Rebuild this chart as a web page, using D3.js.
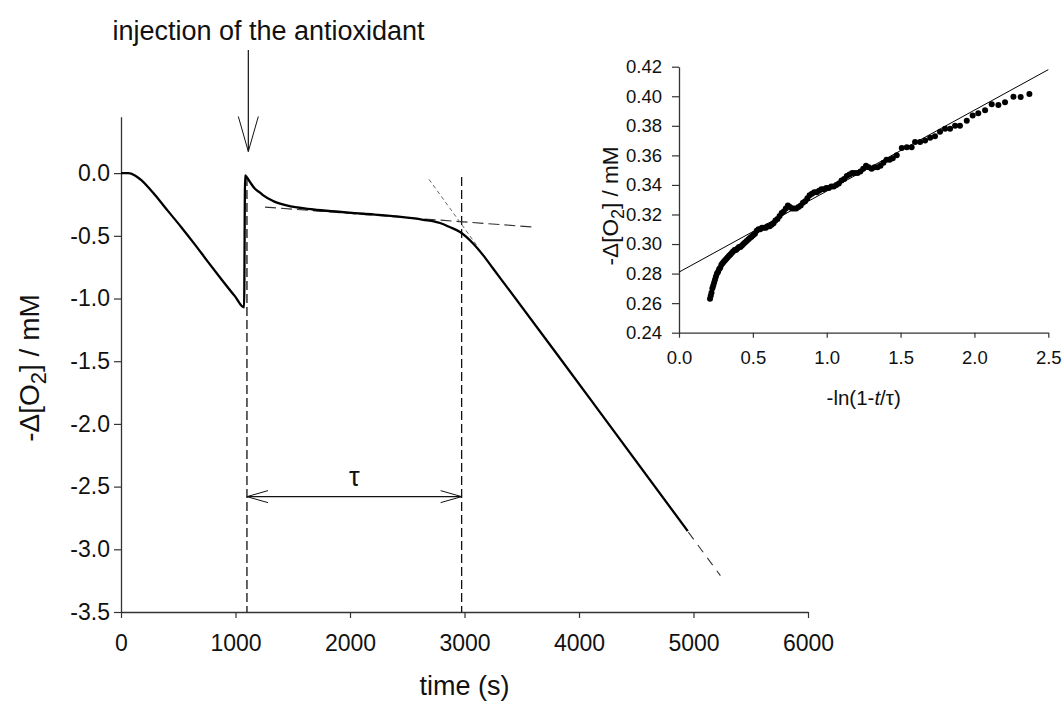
<!DOCTYPE html>
<html>
<head>
<meta charset="utf-8">
<script src="https://cdn.jsdelivr.net/npm/d3@7"></script>
<style>
  body { margin: 0; background: #fff; }
  svg { display: block; font-family: "Liberation Sans", Arial, sans-serif; }
</style>
</head>
<body>
<svg id="chart" width="1063" height="702"></svg>
<script>
// ---------- main chart data ----------
const timeS = [0, 64, 122, 180, 238, 297, 413, 530, 646, 763, 880, 996, 1075,
  1084, 1100, 1127, 1170, 1214, 1243, 1330, 1447, 1680, 1900, 2117, 2408, 2640, 2786, 2870, 2961, 3077, 3164, 3251,
  3368, 3805, 4242, 4950];
const dO2 = [0, 0, -0.018, -0.058, -0.112, -0.175, -0.305, -0.435, -0.570, -0.712, -0.850, -0.983, -1.070,
  -0.018, -0.035, -0.072, -0.125, -0.155, -0.178, -0.223, -0.258, -0.290, -0.308, -0.324, -0.345, -0.372, -0.398,
  -0.430, -0.470, -0.563, -0.656, -0.763, -0.905, -1.440, -1.980, -2.855];

const xTicksMain = [0, 1000, 2000, 3000, 4000, 5000, 6000];
const yTicksMain = [0.0, -0.5, -1.0, -1.5, -2.0, -2.5, -3.0, -3.5];

const injectionTime = 1100;   // dashed line 1
const tauEnd = 2975;          // dashed line 2
const tauArrowLevel = -2.58;
// tangent / extrapolation lines [t0, v0, t1, v1]
const tangentSlow = [1258, -0.271, 3616, -0.431];
const tangentFast = [2690, -0.05, 3110, -0.58];
const extrapolation = [4955, -2.863, 5235, -3.21];

// ---------- inset data ----------
const lnX = [0.210, 0.215, 0.220, 0.226, 0.232, 0.238, 0.244, 0.250, 0.257, 0.264, 0.271, 0.279, 0.287, 0.295,
  0.303, 0.312, 0.321, 0.330, 0.339, 0.348, 0.357, 0.366, 0.376, 0.386, 0.396, 0.406, 0.416, 0.426, 0.436, 0.447,
  0.458, 0.469, 0.480, 0.491, 0.502, 0.514, 0.526, 0.538, 0.550, 0.562, 0.575, 0.588, 0.601, 0.614, 0.627, 0.640,
  0.653, 0.667, 0.681, 0.695, 0.709, 0.723, 0.737, 0.751, 0.765, 0.779, 0.794, 0.809, 0.824, 0.839, 0.854, 0.869,
  0.884, 0.900, 0.916, 0.932, 0.948, 0.964, 0.980, 0.997, 1.014, 1.031, 1.048, 1.065, 1.082, 1.100, 1.118, 1.136,
  1.154, 1.172, 1.190, 1.209, 1.228, 1.247, 1.266, 1.285, 1.304, 1.324, 1.344, 1.364, 1.384, 1.405, 1.426, 1.447,
  1.474, 1.508, 1.542, 1.575, 1.598, 1.632, 1.666, 1.700, 1.733, 1.767, 1.801, 1.835, 1.869, 1.902, 1.948, 1.988,
  2.026, 2.072, 2.117, 2.162, 2.207, 2.264, 2.313, 2.372];
const lnY = [0.263, 0.265, 0.267, 0.270, 0.272, 0.274, 0.276, 0.278, 0.280, 0.281, 0.283, 0.284, 0.286, 0.287,
  0.288, 0.289, 0.290, 0.291, 0.292, 0.293, 0.294, 0.295, 0.296, 0.296, 0.297, 0.298, 0.298, 0.299, 0.300, 0.301,
  0.302, 0.303, 0.304, 0.305, 0.306, 0.307, 0.309, 0.310, 0.310, 0.311, 0.311, 0.311, 0.312, 0.312, 0.313, 0.314,
  0.316, 0.317, 0.319, 0.321, 0.322, 0.324, 0.326, 0.325, 0.324, 0.324, 0.324, 0.325, 0.326, 0.328, 0.329, 0.331,
  0.333, 0.334, 0.335, 0.335, 0.336, 0.337, 0.337, 0.338, 0.338, 0.339, 0.339, 0.340, 0.341, 0.343, 0.344, 0.346,
  0.347, 0.348, 0.348, 0.348, 0.349, 0.351, 0.353, 0.352, 0.351, 0.352, 0.352, 0.353, 0.355, 0.357, 0.357, 0.358,
  0.360, 0.365, 0.3655, 0.3655, 0.369, 0.369, 0.370, 0.372, 0.373, 0.376, 0.378, 0.378, 0.380, 0.380, 0.3835, 0.387,
  0.3885, 0.3905, 0.3946, 0.394, 0.396, 0.3997, 0.3995, 0.4015];
const fitLine = [0.0, 0.281, 2.5, 0.418];
const xTicksInset = [0.0, 0.5, 1.0, 1.5, 2.0, 2.5];
const yTicksInset = [0.24, 0.26, 0.28, 0.30, 0.32, 0.34, 0.36, 0.38, 0.40, 0.42];

// ---------- drawing ----------
const svg = d3.select("#chart");
const AX = "#333";

const x = d3.scaleLinear().domain([0, 6000]).range([121, 808]);
const y = d3.scaleLinear().domain([-3.5, 0.45]).range([612, 116.7]);

function styleAxis(g, fontSize) {
  g.select(".domain").attr("stroke", AX).attr("stroke-width", 1.3);
  g.selectAll(".tick line").attr("stroke", AX).attr("stroke-width", 1.2);
  g.selectAll(".tick text").attr("fill", "#111").attr("font-size", fontSize)
    .attr("font-family", "'Liberation Sans', Arial, sans-serif");
}

const gx = svg.append("g").attr("transform", `translate(0,${y(-3.5)})`)
  .call(d3.axisBottom(x).tickValues(xTicksMain).tickFormat(d3.format("d")).tickSize(6).tickSizeOuter(0).tickPadding(17));
styleAxis(gx, 23);
const gy = svg.append("g").attr("transform", `translate(${x(0)},0)`)
  .call(d3.axisLeft(y).tickValues(yTicksMain).tickFormat(d3.format(".1f")).tickSize(7).tickSizeOuter(0).tickPadding(4));
styleAxis(gy, 23);
gy.selectAll(".tick text").text(d => d3.format(".1f")(d).replace("−", "-"));

// axis titles
svg.append("text").attr("x", (x(0) + x(6000)) / 2).attr("y", 695)
  .attr("text-anchor", "middle").attr("font-size", 27).attr("fill", "#111").text("time (s)");

function o2Title(sel, fs, subFs) {
  sel.append("tspan").text("-Δ[O");
  sel.append("tspan").attr("font-size", subFs).attr("dy", fs * 0.25).text("2");
  sel.append("tspan").attr("dy", -fs * 0.25).text("] / mM");
}
const yt = svg.append("text").attr("transform", "translate(39,368) rotate(-90)")
  .attr("text-anchor", "middle").attr("font-size", 28).attr("fill", "#111");
o2Title(yt, 28, 22);

// dashed vertical lines
[injectionTime, tauEnd].forEach(t => {
  svg.append("line").attr("x1", x(t)).attr("x2", x(t)).attr("y1", y(-0.03)).attr("y2", y(-3.5))
    .attr("stroke", "#111").attr("stroke-width", 1.3).attr("stroke-dasharray", "9,4");
});

// tangent lines
function segLine(a, dash, w, col) {
  svg.append("line").attr("x1", x(a[0])).attr("y1", y(a[1])).attr("x2", x(a[2])).attr("y2", y(a[3]))
    .attr("stroke", col).attr("stroke-width", w).attr("stroke-dasharray", dash);
}
segLine(tangentSlow, "11,5", 1.1, "#333");
segLine(tangentFast, "4,3", 0.9, "#555");
segLine(extrapolation, "9,7", 1.1, "#333");

// main curve
const pts = timeS.map((t, i) => [t, dO2[i]]);
svg.append("path").datum(pts)
  .attr("d", d3.line().x(d => x(d[0])).y(d => y(d[1])).curve(d3.curveMonotoneX))
  .attr("fill", "none").attr("stroke", "#000").attr("stroke-width", 2.3).attr("stroke-linejoin", "round");

// tau arrow
const ya = y(tauArrowLevel), xa0 = x(injectionTime), xa1 = x(tauEnd);
svg.append("line").attr("x1", xa0).attr("x2", xa1).attr("y1", ya).attr("y2", ya)
  .attr("stroke", "#111").attr("stroke-width", 1.3);
svg.append("path").attr("d", `M${xa0 + 21},${ya - 6}L${xa0},${ya}L${xa0 + 21},${ya + 6}`)
  .attr("fill", "none").attr("stroke", "#111").attr("stroke-width", 1);
svg.append("path").attr("d", `M${xa1 - 21},${ya - 6}L${xa1},${ya}L${xa1 - 21},${ya + 6}`)
  .attr("fill", "none").attr("stroke", "#111").attr("stroke-width", 1);
svg.append("text").attr("x", (xa0 + xa1) / 2).attr("y", ya - 11).attr("text-anchor", "middle")
  .attr("font-size", 27).attr("fill", "#111").text("τ");

// injection arrow
const xi = x(1112);
svg.append("line").attr("x1", xi).attr("x2", xi).attr("y1", 50).attr("y2", 151.5)
  .attr("stroke", "#111").attr("stroke-width", 1.2);
svg.append("path").attr("d", `M${xi - 10},${116.5}L${xi},${151.5}L${xi + 10},${116.5}`)
  .attr("fill", "none").attr("stroke", "#111").attr("stroke-width", 1);
svg.append("text").attr("x", 268.5).attr("y", 40).attr("text-anchor", "middle")
  .attr("font-size", 27).attr("fill", "#111").text("injection of the antioxidant");

// ---------- inset ----------
const xi2 = d3.scaleLinear().domain([0, 2.5]).range([679, 1048.3]);
const yi2 = d3.scaleLinear().domain([0.24, 0.42]).range([332.7, 66.7]);

const gix = svg.append("g").attr("transform", `translate(0,${yi2(0.24)})`)
  .call(d3.axisBottom(xi2).tickValues(xTicksInset).tickFormat(d3.format(".1f")).tickSize(5).tickSizeOuter(0).tickPadding(13));
styleAxis(gix, 18.5);
const giy = svg.append("g").attr("transform", `translate(${xi2(0)},0)`)
  .call(d3.axisLeft(yi2).tickValues(yTicksInset).tickFormat(d3.format(".2f")).tickSize(7).tickSizeOuter(0).tickPadding(10));
styleAxis(giy, 18.5);

svg.append("line").attr("x1", xi2(fitLine[0])).attr("y1", yi2(fitLine[1]))
  .attr("x2", xi2(fitLine[2])).attr("y2", yi2(fitLine[3]))
  .attr("stroke", "#000").attr("stroke-width", 1);

svg.append("g").selectAll("circle").data(lnX.map((v, i) => [v, lnY[i]])).join("circle")
  .attr("cx", d => xi2(d[0])).attr("cy", d => yi2(d[1])).attr("r", 3).attr("fill", "#000");

const ixt = svg.append("text").attr("x", (xi2(0) + xi2(2.5)) / 2).attr("y", 405)
  .attr("text-anchor", "middle").attr("font-size", 20.5).attr("fill", "#111");
ixt.append("tspan").text("-ln(1-");
ixt.append("tspan").attr("font-style", "italic").text("t");
ixt.append("tspan").text("/τ)");

const iyt = svg.append("text").attr("transform", "translate(618,206) rotate(-90)")
  .attr("text-anchor", "middle").attr("font-size", 22.5).attr("fill", "#111");
o2Title(iyt, 22.5, 18);
</script>
</body>
</html>
